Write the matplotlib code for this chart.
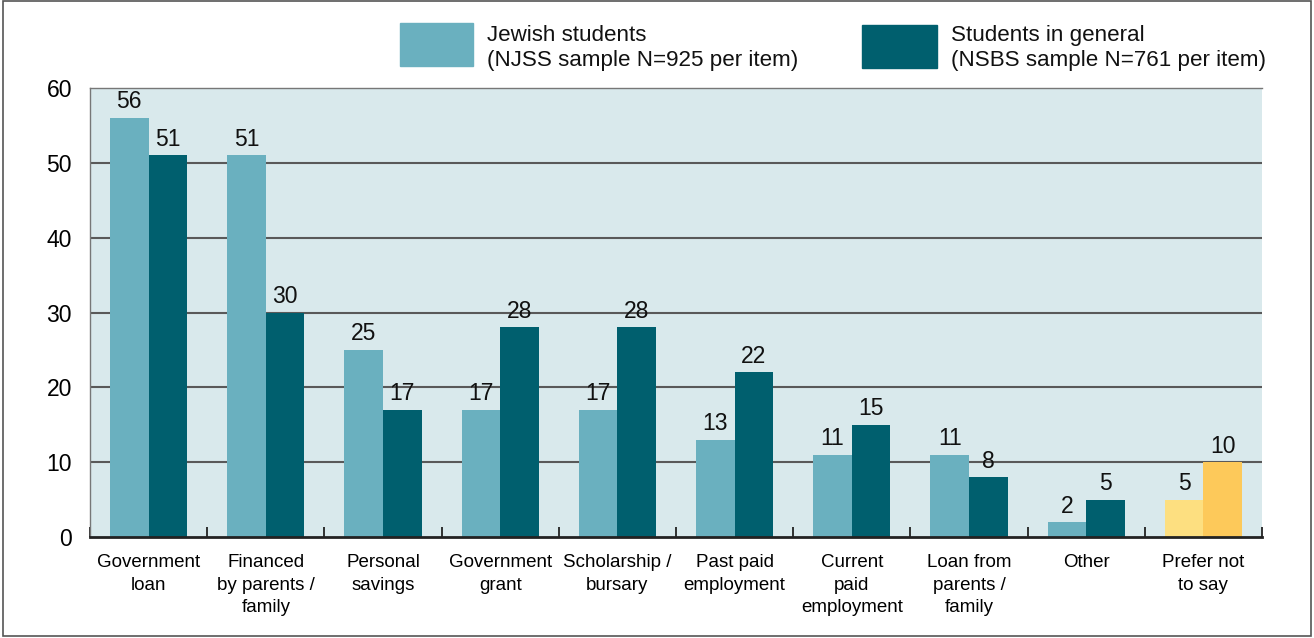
import matplotlib
matplotlib.use("Agg")
import matplotlib.pyplot as plt
from matplotlib.patches import Rectangle
import numpy as np

categories = ["Government\nloan", "Financed\nby parents /\nfamily", "Personal\nsavings",
              "Government\ngrant", "Scholarship /\nbursary", "Past paid\nemployment",
              "Current\npaid\nemployment", "Loan from\nparents /\nfamily", "Other",
              "Prefer not\nto say"]
jewish = [56, 51, 25, 17, 17, 13, 11, 11, 2, 5]
general = [51, 30, 17, 28, 28, 22, 15, 8, 5, 10]
series_names = ["Jewish students\n(NJSS sample N=925 per item)",
                "Students in general\n(NSBS sample N=761 per item)"]
yticks = [0, 10, 20, 30, 40, 50, 60]

c_light = "#6ab0bf"
c_dark = "#005f6e"
c_light_y = "#fddf80"
c_dark_y = "#fdc95a"
bg = "#d9e9ec"

plt.rcParams['font.family'] = ['Liberation Sans', 'DejaVu Sans']

fig = plt.figure(figsize=(13.14, 6.38), dpi=100)
ax = fig.add_axes([90/1314, 1-537/638, (1262-90)/1314, (537-88)/638])
ax.set_facecolor(bg)

x = np.arange(len(categories))
w = 0.33
cols1 = [c_light]*(len(categories)-1) + [c_light_y]
cols2 = [c_dark]*(len(categories)-1) + [c_dark_y]
b1 = ax.bar(x - w/2, jewish, w, color=cols1, zorder=3)
b2 = ax.bar(x + w/2, general, w, color=cols2, zorder=3)
for bars, vals in ((b1, jewish), (b2, general)):
    for r, v in zip(bars, vals):
        ax.text(r.get_x() + r.get_width()/2, v + 0.6, str(v), ha='center', va='bottom',
                fontsize=16.5, color='#111111', zorder=4)

ax.set_xlim(-0.5, len(categories)-0.5)
ax.set_ylim(0, 60)
ax.set_yticks(yticks)
ax.set_yticklabels([str(t) for t in yticks], fontsize=16.5)
for t in yticks[1:-1]:
    ax.axhline(t, color='#595959', lw=1.5, zorder=2)

ax.set_xticks(x)
ax.set_xticklabels(categories, fontsize=13.5, linespacing=1.45)
ax.set_xticks(np.arange(len(categories)+1) - 0.5, minor=True)
ax.tick_params(axis='x', which='major', length=0, pad=12)
ax.tick_params(axis='x', which='minor', direction='in', length=7, width=1.3, color='#222222')
ax.tick_params(axis='y', length=0, pad=13)

for s in ('left', 'top'):
    ax.spines[s].set_color('#777777')
    ax.spines[s].set_linewidth(1.0)
ax.spines['right'].set_visible(False)
ax.spines['bottom'].set_color('#222222')
ax.spines['bottom'].set_linewidth(2)
ax.spines['bottom'].set_zorder(5)

# legend
def fx(px): return px/1314
def fy(py): return 1 - py/638
fig.add_artist(Rectangle((fx(400), fy(66)), fx(473)-fx(400), fy(23)-fy(66),
                         transform=fig.transFigure, color=c_light))
fig.add_artist(Rectangle((fx(862), fy(68)), fx(937)-fx(862), fy(25)-fy(68),
                         transform=fig.transFigure, color=c_dark))
fig.text(fx(487), fy(48), series_names[0], fontsize=16.1, va='center', ha='left',
         linespacing=1.22, color='#111111')
fig.text(fx(951), fy(48), series_names[1], fontsize=16.1, va='center', ha='left',
         linespacing=1.22, color='#111111')

# outer frame
fig.add_artist(Rectangle((fx(3), fy(636)), fx(1311)-fx(3), fy(1)-fy(636),
                         transform=fig.transFigure, fill=False, edgecolor='#555555', lw=1.2))

fig.savefig("out.png", dpi=100)
